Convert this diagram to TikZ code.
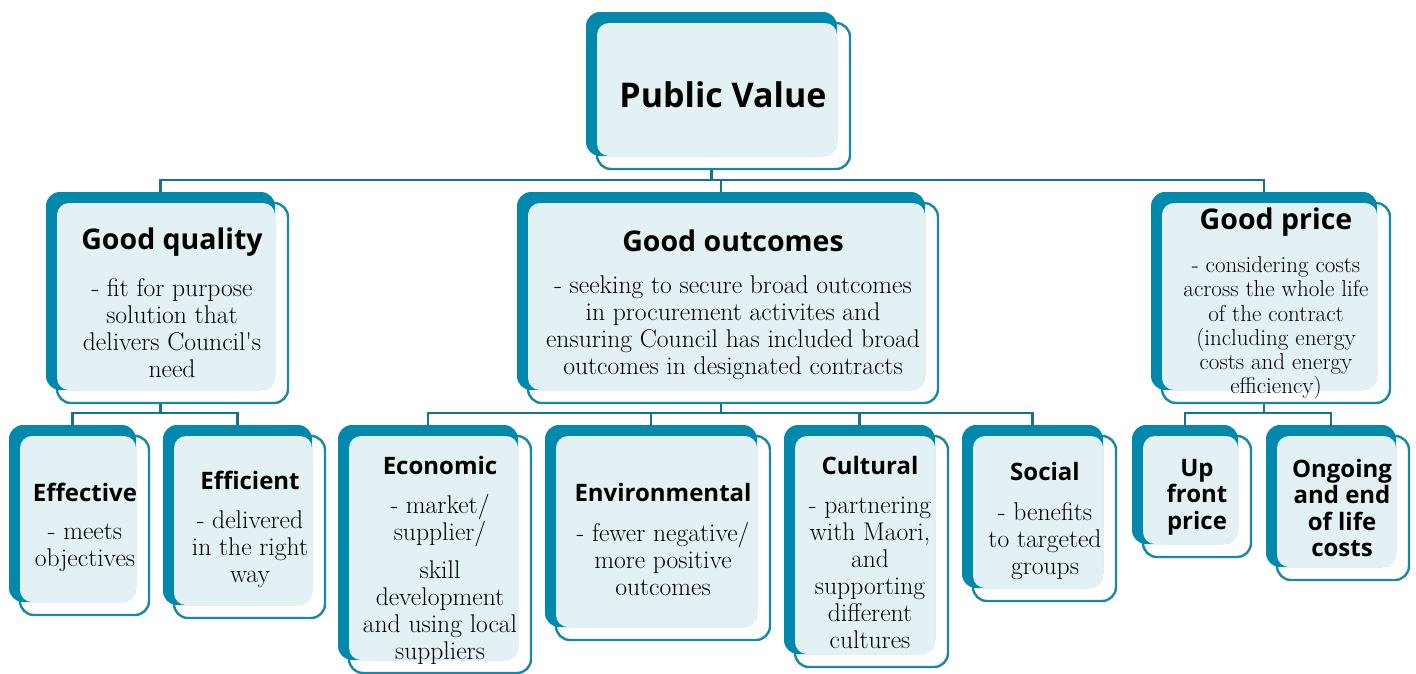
\documentclass[tikz,border=0pt]{standalone}
\usepackage{fontspec}
\newfontfamily\hdfont{Open Sans}
\usetikzlibrary{calc}
\definecolor{tealback}{HTML}{0089AD}
\definecolor{tealline}{HTML}{1A87A7}
\definecolor{connc}{HTML}{18718E}
\definecolor{lightb}{HTML}{E3F1F5}
\pgfdeclarelayer{bg}
\pgfsetlayers{bg,main}
\tikzset{
  frontbox/.style={draw=tealline, fill=white, line width=2.4pt, rounded corners=14pt, inner sep=0pt, outer sep=0pt},
  backbox/.style={fill=tealback, rounded corners=14pt, inner sep=0pt, outer sep=0pt},
  lightfill/.style={fill=lightb, rounded corners=12pt},
  conn/.style={draw=connc, line width=2.6pt},
  hbig/.style={font=\hdfont\bfseries\fontsize{28.5}{32}\selectfont, align=center, inner sep=0pt},
  hsmall/.style={font=\hdfont\bfseries\fontsize{24}{26.5}\selectfont, align=center, inner sep=0pt},
  bodytext/.style={font=\fontsize{25.6}{27}\selectfont, align=center, inner sep=0pt, text=black},
  bodysmall/.style={font=\fontsize{23}{24.2}\selectfont, align=center, inner sep=0pt, text=black},
}
\newcommand\dblbox[5]{%
  \node[frontbox, minimum width={#4-#2+2}, minimum height={#5-#3+2}, anchor=north west] (#1-f) at (#2+11,#3+11) {};
  \node[backbox, minimum width={#4-#2}, minimum height={#5-#3}, anchor=north west] (#1) at (#2,#3) {};
  \fill[lightfill] (#2+11,#3+11) rectangle (#4,#5);
}
\begin{document}
\begin{tikzpicture}[x=1pt,y=-1pt]
\useasboundingbox (0,0) rectangle (1416,673);

\dblbox{pv}{586}{12}{837}{156}
\dblbox{gq}{46}{192}{275}{390}
\dblbox{go}{517}{192}{925}{390}
\dblbox{gp}{1151}{192}{1377}{390}
\dblbox{eff}{9}{425}{136}{602}
\dblbox{efi}{163}{425}{312}{605}
\dblbox{eco}{338}{425}{518}{660}
\dblbox{env}{545}{425}{757}{627}
\dblbox{cul}{784}{425}{935}{654}
\dblbox{soc}{962}{425}{1103}{588}
\dblbox{up}{1132}{425}{1238}{544}
\dblbox{ong}{1266}{425}{1396}{567}

\node[font=\hdfont\bfseries\fontsize{34}{38}\selectfont, inner sep=0pt] (pv-t) at (723,95) {Public Value};

\node[hbig] (gq-h) at (172,242) {Good quality};
\node[bodytext] (gq-b) at (172,328) {- fit for purpose\\solution that\\delivers Council\textquotesingle s\\need};

\node[hbig] (go-h) at (733,241) {Good outcomes};
\node[bodytext] (go-b) at (733,328) {- seeking to secure broad outcomes\\in procurement activites and\\ensuring Council has included broad\\outcomes in designated contracts};

\node[hbig] (gp-h) at (1276,222) {Good price};
\node[bodysmall] (gp-b) at (1276,328) {- considering costs\\across the whole life\\of the contract\\(including energy\\costs and energy\\efficiency)};

\node[hsmall] (eff-h) at (85,492) {Effective};
\node[bodytext] (eff-b) at (85,548) {- meets\\objectives};

\node[hsmall] (efi-h) at (250,480) {Efficient};
\node[bodytext] (efi-b) at (250,549) {- delivered\\in the right\\way};

\node[hsmall] (eco-h) at (440,465) {Economic};
\node[bodytext] (eco-b) at (440,579) {- market/\\supplier/\\[11pt]skill\\development\\and using local\\suppliers};

\node[hsmall] (env-h) at (663,492) {Environmental};
\node[bodytext] (env-b) at (663,559) {- fewer negative/\\more positive\\outcomes};

\node[hsmall] (cul-h) at (870,465) {Cultural};
\node[bodytext] (cul-b) at (870,573) {- partnering\\with Maori,\\and\\supporting\\different\\cultures};

\node[hsmall] (soc-h) at (1045,471) {Social};
\node[bodytext] (soc-b) at (1045,541) {- benefits\\to targeted\\groups};

\node[hsmall] (up-t) at (1197,497) {Up\\front\\price};
\node[hsmall] (ong-t) at (1342,508) {Ongoing\\and end\\of life\\costs};

\begin{pgfonlayer}{bg}
\fill[white] (0,0) rectangle (1416,673);
\draw[conn] (pv.south) -- ++(0,24) coordinate (bus1);
\draw[conn] (bus1) -| (gq.north);
\draw[conn] (bus1) -| (gp.north);
\draw[conn] (bus1) -| (go.north);

\draw[conn] (gq.south) -- ++(0,23) coordinate (bus2);
\draw[conn] (bus2) -| (eff.north);
\draw[conn] (bus2) -| (efi.north);

\draw[conn] (go.south) -- ++(0,23) coordinate (bus3);
\draw[conn] (bus3) -| (eco.north);
\draw[conn] (bus3) -| (env.north);
\draw[conn] (bus3) -| (cul.north);
\draw[conn] (bus3) -| (soc.north);

\draw[conn] (gp.south) -- ++(0,23) coordinate (bus4);
\draw[conn] (bus4) -| (up.north);
\draw[conn] (bus4) -| (ong.north);
\end{pgfonlayer}
\end{tikzpicture}
\end{document}
